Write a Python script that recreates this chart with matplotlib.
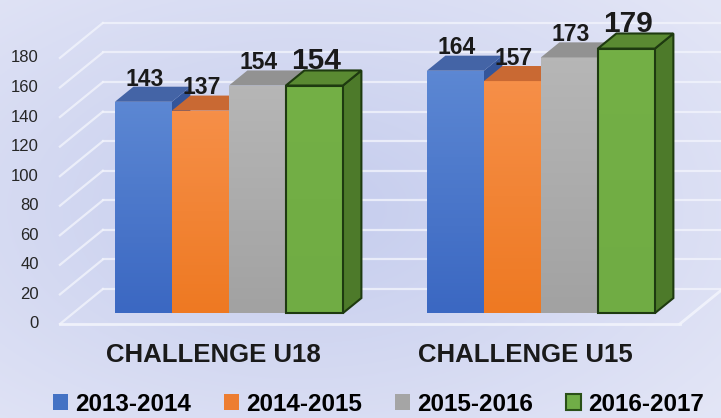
import numpy as np
import matplotlib
matplotlib.use("Agg")
import matplotlib.pyplot as plt
from matplotlib.patches import Polygon, Patch
from matplotlib.colors import to_rgb

plt.rcParams['font.family'] = ['Liberation Sans', 'DejaVu Sans']

categories = ['CHALLENGE U18', 'CHALLENGE U15']
seasons = ['2013-2014', '2014-2015', '2015-2016', '2016-2017']
values = [
    [143, 164],   # 2013-2014
    [137, 157],   # 2014-2015
    [154, 173],   # 2015-2016
    [154, 179],   # 2016-2017
]
yticks = [0, 20, 40, 60, 80, 100, 120, 140, 160, 180]

# front face gradient (top, bottom)
front_top = ['#5c87d3', '#f68f48', '#b6b6b6', '#74b046']
front_bot = ['#3b68c2', '#ee7922', '#a2a2a2', '#70ac44']
top_col = ['#4464a6', '#c96933', '#929292', '#5a8a32']
side_col = ['#34559a', '#b85d27', '#858585', '#4d7a2a']
legend_col = ['#4472c4', '#ed7d31', '#a5a5a5', '#70ad47']

# fake 3d: depth d in [0,1] shifts right and up
DX = 0.1378   # x units per depth
DY = 23.7     # value units per depth
d0, d1 = 0.31, 0.74
w = 0.1827

fig = plt.figure(figsize=(7.21, 4.18), dpi=100)
ax = fig.add_axes([0, 0, 1, 1])
ax.set_xlim(-0.691, 1.620)
ax.set_ylim(-63.6, 219.2)
ax.axis('off')

# background
yy, xx = np.mgrid[0:1:200j, 0:1:300j]
r = np.sqrt(((xx - 0.42) / 0.75) ** 2 + ((yy - 0.5) / 0.75) ** 2)
c_in = np.array([0.77, 0.80, 0.93])
c_out = np.array([0.89, 0.90, 0.965])
t = np.clip(r, 0, 1)[..., None]
img = c_in * (1 - t) + c_out * t
ax.imshow(img, extent=[-0.691, 1.620, -63.6, 219.2], aspect='auto', zorder=0)

# walls / gridlines
x_wall0 = -0.499
x_end = 1.488
gcol = '#f2f4fc'
for v in yticks:
    ax.plot([x_wall0, x_wall0 + DX], [v, v + DY], color=gcol, lw=1.6, alpha=0.8, zorder=1)
    ax.plot([x_wall0 + DX, 1.7], [v + DY, v + DY], color=gcol, lw=1.6, alpha=0.8, zorder=1)
    ax.text(-0.566, v, str(v), ha='right', va='center', fontsize=12, color='#262626')
ax.plot([x_wall0, x_end], [0, 0], color=gcol, lw=2, alpha=0.9, zorder=1)
ax.plot([x_end, x_end + DX], [0, DY], color=gcol, lw=2, alpha=0.9, zorder=1)

# bars
z = 3
for i in range(len(categories)):
    for j in range(len(seasons)):
        v = values[j][i]
        xl = i - 2 * w + j * w + d0 * DX
        yb = d0 * DY
        is_green = j == 3
        ec = '#1e3a10' if is_green else 'none'
        lw = 1.5 if is_green else 0
        ddx = (d1 - d0) * DX
        ddy = (d1 - d0) * DY
        side = Polygon([(xl + w, yb), (xl + w + ddx, yb + ddy), (xl + w + ddx, yb + v + ddy),
                        (xl + w, yb + v)],
                       closed=True, facecolor=side_col[j], edgecolor=ec, lw=lw, zorder=z)
        ax.add_patch(side)
        # front face with vertical gradient
        front = Polygon([(xl, yb), (xl + w, yb), (xl + w, yb + v), (xl, yb + v)],
                        closed=True, facecolor='none', edgecolor='none', zorder=z + 0.1)
        ax.add_patch(front)
        g = np.linspace(0, 1, 64)[:, None, None]
        grad = np.array(to_rgb(front_top[j])) * (1 - g) + np.array(to_rgb(front_bot[j])) * g
        im = ax.imshow(grad, extent=[xl, xl + w, yb, yb + v], aspect='auto', zorder=z + 0.1)
        im.set_clip_path(front)
        if is_green:
            ax.add_patch(Polygon([(xl, yb), (xl + w, yb), (xl + w, yb + v), (xl, yb + v)],
                                 closed=True, facecolor='none', edgecolor=ec, lw=lw, zorder=z + 0.2))
        top = Polygon([(xl, yb + v), (xl + w, yb + v), (xl + w + ddx, yb + v + ddy),
                       (xl + ddx, yb + v + ddy)],
                      closed=True, facecolor=top_col[j], edgecolor=ec, lw=lw, zorder=z + 0.3)
        ax.add_patch(top)
        z += 1
        fs = 21.5 if is_green else 16.5
        ax.text(xl + w / 2 + 0.005, v + d1 * DY + 0.8, str(v), ha='center', va='baseline',
                fontsize=fs, fontweight='bold', color='#1a1a1a', zorder=50)

for i, c in enumerate(categories):
    ax.text(i - 0.008, -21, c, ha='center', va='center', fontsize=18.5,
            fontweight='bold', color='#1a1a1a')

handles = []
for j in range(len(seasons)):
    if j == 3:
        handles.append(Patch(facecolor=legend_col[j], edgecolor='#2a5018', lw=1.5, label=seasons[j]))
    else:
        handles.append(Patch(facecolor=legend_col[j], edgecolor='none', label=seasons[j]))
fig.legend(handles=handles, loc='center', bbox_to_anchor=(0.525, 0.033), ncol=4,
           frameon=False, prop={'size': 17.5, 'weight': 'bold'}, handlelength=0.62,
           handleheight=0.62, handletextpad=0.3, columnspacing=1.35, borderpad=0)

fig.savefig('out.png', dpi=100)
